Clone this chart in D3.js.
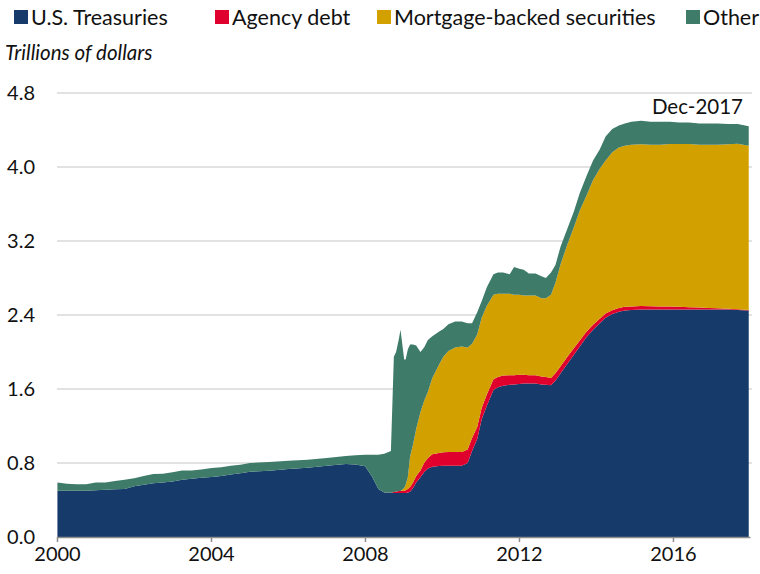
<!DOCTYPE html>
<html><head><meta charset="utf-8">
<script src="https://cdn.jsdelivr.net/npm/d3@7"></script>
<style>
html,body{margin:0;padding:0;background:#fff;}
svg text{font-family:"Source Sans Pro","Lato","Noto Sans",sans-serif;}
</style></head><body>
<svg id="chart" width="760" height="574"></svg>
<script>
const dates = ["2000-01-05","2000-04-05","2000-07-05","2000-10-04","2001-01-03","2001-04-04","2001-07-04","2001-10-03",
"2002-01-02","2002-04-03","2002-07-03","2002-10-02","2003-01-01","2003-04-02","2003-07-02","2003-10-01",
"2004-01-07","2004-04-07","2004-07-07","2004-10-06","2005-01-05","2005-07-06","2006-01-04","2006-07-05",
"2007-01-03","2007-07-04","2007-10-03","2008-01-02","2008-03-05","2008-05-07","2008-07-02","2008-09-03",
"2008-10-01","2008-10-22","2008-11-19","2008-12-03","2009-01-07","2009-01-21","2009-02-11","2009-03-04",
"2009-04-01","2009-05-01","2009-06-10","2009-07-15","2009-08-20","2009-10-01","2009-12-02","2010-01-13",
"2010-03-03","2010-05-05","2010-07-07","2010-09-01","2010-10-13","2010-12-01","2011-01-12","2011-03-02",
"2011-05-04","2011-06-15","2011-08-03","2011-10-05","2011-11-16","2012-01-04","2012-02-15","2012-04-04",
"2012-06-06","2012-08-01","2012-09-12","2012-10-31","2012-12-12","2013-01-30","2013-04-03","2013-06-05",
"2013-07-31","2013-10-02","2013-12-04","2014-02-05","2014-04-02","2014-06-04","2014-08-06","2014-10-01",
"2014-12-03","2015-03-04","2015-06-03","2015-09-02","2015-12-02","2016-03-02","2016-06-01","2016-09-07",
"2016-12-07","2017-03-01","2017-06-07","2017-09-06","2017-12-20"];

const treasuries = [0.50,0.50,0.50,0.50,0.505,0.51,0.515,0.52,
0.55,0.565,0.58,0.59,0.60,0.62,0.63,0.64,
0.65,0.66,0.675,0.69,0.705,0.715,0.735,0.75,
0.77,0.79,0.785,0.765,0.66,0.52,0.48,0.48,
0.476,0.476,0.476,0.476,0.475,0.475,0.48,0.49,
0.53,0.59,0.645,0.70,0.74,0.76,0.768,0.77,
0.77,0.77,0.77,0.80,0.93,1.06,1.27,1.42,
1.59,1.62,1.635,1.645,1.65,1.655,1.66,1.66,
1.66,1.65,1.645,1.64,1.69,1.77,1.87,1.97,
2.06,2.16,2.24,2.31,2.37,2.41,2.435,2.45,
2.455,2.46,2.46,2.46,2.46,2.46,2.46,2.46,
2.46,2.46,2.46,2.455,2.45];

const agency = [0,0,0,0,0,0,0,0,
0,0,0,0,0,0,0,0,
0,0,0,0,0,0,0,0,
0,0,0,0,0,0,0,0.002,
0.01,0.015,0.02,0.02,0.025,0.03,0.04,0.05,
0.06,0.07,0.075,0.10,0.115,0.135,0.14,0.145,
0.15,0.15,0.15,0.145,0.14,0.13,0.125,0.12,
0.115,0.11,0.11,0.105,0.10,0.10,0.095,0.09,
0.09,0.085,0.085,0.08,0.08,0.075,0.075,0.07,
0.065,0.06,0.055,0.05,0.045,0.042,0.04,0.04,
0.038,0.036,0.034,0.033,0.032,0.028,0.025,0.02,
0.015,0.012,0.008,0.006,0.004];

const mbs = [0,0,0,0,0,0,0,0,
0,0,0,0,0,0,0,0,
0,0,0,0,0,0,0,0,
0,0,0,0,0,0,0,0,
0,0,0,0,0.03,0.06,0.13,0.33,
0.41,0.51,0.63,0.67,0.715,0.825,0.952,1.035,
1.09,1.13,1.14,1.105,1.02,1.00,0.975,0.96,
0.915,0.90,0.885,0.88,0.87,0.865,0.855,0.86,
0.86,0.845,0.85,0.90,0.98,1.105,1.215,1.31,
1.405,1.47,1.565,1.62,1.655,1.708,1.735,1.74,
1.747,1.749,1.746,1.747,1.758,1.762,1.765,1.76,
1.765,1.768,1.777,1.79,1.776];

const other = [0.09,0.075,0.07,0.07,0.085,0.08,0.09,0.10,
0.085,0.095,0.10,0.095,0.10,0.10,0.09,0.09,
0.095,0.095,0.095,0.09,0.095,0.095,0.09,0.085,
0.085,0.085,0.10,0.125,0.23,0.37,0.42,0.448,
1.464,1.509,1.654,1.744,1.39,1.355,1.38,1.21,
1.08,0.90,0.65,0.58,0.56,0.45,0.36,0.30,
0.29,0.28,0.27,0.26,0.22,0.24,0.18,0.20,
0.22,0.23,0.23,0.21,0.30,0.28,0.28,0.24,
0.24,0.24,0.22,0.24,0.19,0.19,0.17,0.17,
0.19,0.21,0.21,0.21,0.26,0.25,0.24,0.24,
0.25,0.255,0.25,0.25,0.24,0.23,0.23,0.23,
0.23,0.23,0.22,0.215,0.21];

const seriesKeys = ["treasuries","agency","mbs","other"];
const seriesNames = ["U.S. Treasuries","Agency debt","Mortgage-backed securities","Other"];
const seriesColors = ["#163b6b","#e0002d","#d2a100","#3e7b69"];
const yTicks = [0,0.8,1.6,2.4,3.2,4.0,4.8];
const xTickYears = [2000,2004,2008,2012,2016];

const parse = d3.timeParse("%Y-%m-%d");
const rows = dates.map((d,i)=>({date:parse(d),treasuries:treasuries[i],agency:agency[i],mbs:mbs[i],other:other[i]}));

const svg = d3.select("#chart");
const x = d3.scaleTime().domain([new Date(2000,0,1),new Date(2018,0,1)]).range([57,750]);
const y = d3.scaleLinear().domain([0,4.8]).range([537,93]);

// gridlines
svg.append("g").selectAll("line").data(yTicks.filter(t=>t>0)).join("line")
  .attr("x1",57).attr("x2",752).attr("y1",d=>y(d)).attr("y2",d=>y(d))
  .attr("stroke","#d9d9d9").attr("stroke-width",1.3);

const stack = d3.stack().keys(seriesKeys);
const layers = stack(rows);
const area = d3.area().x(d=>x(d.data.date)).y0(d=>y(d[0])).y1(d=>y(d[1])).curve(d3.curveLinear);
svg.append("g").selectAll("path").data(layers).join("path")
  .attr("d",area).attr("fill",(d,i)=>seriesColors[i]);

// y axis labels
const yAxis = d3.axisLeft(y).tickValues(yTicks).tickFormat(d3.format(".1f")).tickSize(0).tickPadding(0);
const gy = svg.append("g").attr("transform","translate(35,0)").call(yAxis);
gy.select(".domain").remove();
gy.selectAll("text").attr("font-size",20).attr("fill","#111").attr("font-family",null);

// x axis
const xAxis = d3.axisBottom(x).tickValues(xTickYears.map(yv=>new Date(yv,0,1))).tickFormat(d3.timeFormat("%Y")).tickSize(5).tickSizeOuter(0).tickPadding(5);
const gx = svg.append("g").attr("transform","translate(0,537)").call(xAxis);
gx.select(".domain").attr("stroke","#8c8c8c").attr("stroke-width",1.5);
gx.selectAll(".tick line").attr("stroke","#8c8c8c").attr("stroke-width",1.5);
gx.selectAll("text").attr("font-size",20).attr("fill","#111").attr("font-family",null);

// legend
const legendX = [14,215,377,686];
const lg = svg.append("g");
seriesNames.forEach((n,i)=>{
  lg.append("rect").attr("x",legendX[i]).attr("y",10).attr("width",14).attr("height",14).attr("fill",seriesColors[i]);
  lg.append("text").attr("x",legendX[i]+17).attr("y",25).attr("font-size",21.5).attr("fill","#111").text(n);
});
svg.append("text").attr("x",5).attr("y",60).attr("font-size",20.5).attr("font-style","italic").attr("fill","#111").text("Trillions of dollars");
svg.append("text").attr("x",743).attr("y",114).attr("text-anchor","end").attr("font-size",20.5).attr("fill","#111").text("Dec-2017");
</script></body></html>
